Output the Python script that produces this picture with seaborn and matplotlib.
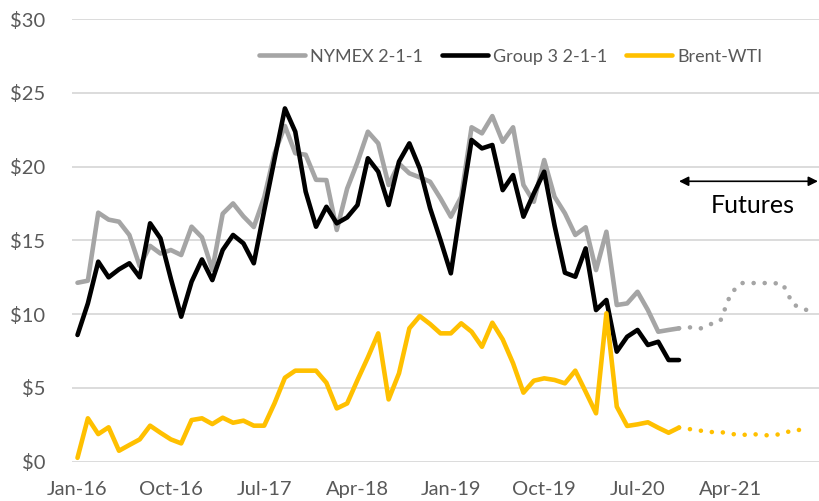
import numpy as np
import pandas as pd
import matplotlib
matplotlib.use("Agg")
import matplotlib.pyplot as plt
import seaborn as sns

# ===== DATA (monthly, Jan-16 onward) =====
nymex = [12.12, 12.26, 16.87, 16.4, 16.26, 15.36, 13.25, 14.62, 14.1, 14.34,
         14.0, 15.92, 15.2, 13.0, 16.8, 17.5, 16.62, 15.9, 17.9, 20.9,
         22.75, 20.9, 20.8, 19.1, 19.08, 15.7, 18.5, 20.3, 22.36, 21.57,
         18.75, 20.2, 19.54, 19.27, 18.97, 17.84, 16.6, 17.95, 22.66, 22.25,
         23.42, 21.68, 22.66, 18.75, 17.61, 20.44, 17.95, 16.83, 15.36, 15.88,
         12.98, 15.58, 10.61, 10.72, 11.51, 10.27, 8.8, 8.92, 9.03]
group3 = [8.58, 10.72, 13.55, 12.49, 13.03, 13.44, 12.49, 16.15, 15.13, 12.4,
          9.82, 12.19, 13.7, 12.3, 14.34, 15.36, 14.79, 13.44, 17.0, 20.5,
          23.94, 22.36, 18.3, 15.92, 17.27, 16.15, 16.55, 17.39, 20.56, 19.65,
          17.39, 20.33, 21.57, 19.88, 17.17, 15.02, 12.76, 17.4, 21.8, 21.23,
          21.46, 18.4, 19.42, 16.6, 18.18, 19.65, 16.0, 12.8, 12.53, 14.45,
          10.27, 10.95, 7.45, 8.46, 8.92, 7.9, 8.12, 6.88, 6.88]
brent_wti = [0.25, 2.93, 1.86, 2.32, 0.73, 1.12, 1.5, 2.43, 1.95, 1.5,
             1.23, 2.81, 2.93, 2.54, 2.97, 2.63, 2.77, 2.43, 2.43, 3.95,
             5.68, 6.16, 6.16, 6.16, 5.34, 3.6, 3.94, 5.53, 7.06, 8.69,
             4.21, 5.98, 9.03, 9.86, 9.32, 8.69, 8.69, 9.37, 8.8, 7.78,
             9.41, 8.28, 6.66, 4.67, 5.48, 5.64, 5.53, 5.3, 6.16, 4.73,
             3.27, 10.05, 3.72, 2.41, 2.52, 2.66, 2.29, 1.95, 2.3]

# futures start at the last actual month (Nov-20)
nymex_fut = [9.03, 9.1, 9.0, 9.3, 9.55, 11.4, 12.1, 12.1, 12.1, 12.1,
             12.05, 10.65, 10.35, 10.1]
brent_fut = [2.3, 2.2, 2.1, 2.0, 2.0, 1.88, 1.78, 1.88, 1.78, 1.78,
             1.88, 2.14, 2.14]

tick_labels = ["Jan-16", "Oct-16", "Jul-17", "Apr-18", "Jan-19", "Oct-19", "Jul-20", "Apr-21"]
y_labels = ["$0", "$5", "$10", "$15", "$20", "$25", "$30"]

hist = pd.DataFrame({"month": np.arange(len(nymex)), "nymex": nymex,
                     "group3": group3, "brent": brent_wti})
start = len(nymex) - 1
fut_n = pd.DataFrame({"month": np.arange(start, start + len(nymex_fut)), "v": nymex_fut})
fut_b = pd.DataFrame({"month": np.arange(start, start + len(brent_fut)), "v": brent_fut})

GRAY, BLACK, GOLD = "#A5A5A5", "#000000", "#FFC000"
TXT = "#595959"

sns.set_style("white")
plt.rcParams["font.family"] = ["Lato", "DejaVu Sans"]

fig, ax = plt.subplots(figsize=(8.19, 5.01), dpi=100)
fig.subplots_adjust(left=0.0883, right=1.0, top=0.962, bottom=0.0788)

lw = 3.3
dots = (0, (0.01, 2.4))
sns.lineplot(data=hist, x="month", y="nymex", color=GRAY, lw=lw, label="NYMEX 2-1-1", ax=ax)
sns.lineplot(data=hist, x="month", y="group3", color=BLACK, lw=lw, label="Group 3 2-1-1", ax=ax)
sns.lineplot(data=hist, x="month", y="brent", color=GOLD, lw=lw, label="Brent-WTI", ax=ax)
sns.lineplot(data=fut_n, x="month", y="v", color=GRAY, lw=lw, linestyle=dots,
             dash_capstyle="round", ax=ax, legend=False)
sns.lineplot(data=fut_b, x="month", y="v", color=GOLD, lw=lw, linestyle=dots,
             dash_capstyle="round", ax=ax, legend=False)

ax.set_xlim(-0.5, 71.5)
ax.set_ylim(0, 30)
ax.set_xticks(np.arange(0, 9 * len(tick_labels), 9))
ax.set_xticklabels(tick_labels)
ax.set_yticks(np.arange(0, 31, 5))
ax.set_yticklabels(y_labels)
ax.set_xlabel("")
ax.set_ylabel("")
ax.tick_params(axis="y", length=0, pad=19.5, labelsize=14.5, labelcolor=TXT)
ax.tick_params(axis="x", length=0, pad=14, labelsize=14.5, labelcolor=TXT)
ax.grid(axis="y", color="#D9D9D9", lw=1.3)
ax.set_axisbelow(True)
sns.despine(ax=ax, left=True, bottom=True)

leg = ax.legend(loc="center right", bbox_to_anchor=(0.946, 0.915), ncol=3, frameon=False,
                fontsize=13, handlelength=2.55, handletextpad=0.28, columnspacing=1.05,
                labelcolor=TXT)
for h in leg.get_lines():
    h.set_linewidth(lw)

# futures marker
ax.annotate("", xy=(58.0, 19.0), xytext=(71.4, 19.0),
            arrowprops=dict(arrowstyle="<|-|>", color="black", lw=1.2,
                            mutation_scale=14, shrinkA=0, shrinkB=0))
ax.text(65.1, 17.35, "Futures", ha="center", va="center", fontsize=18, color="black")

plt.savefig("out.png", dpi=100)
